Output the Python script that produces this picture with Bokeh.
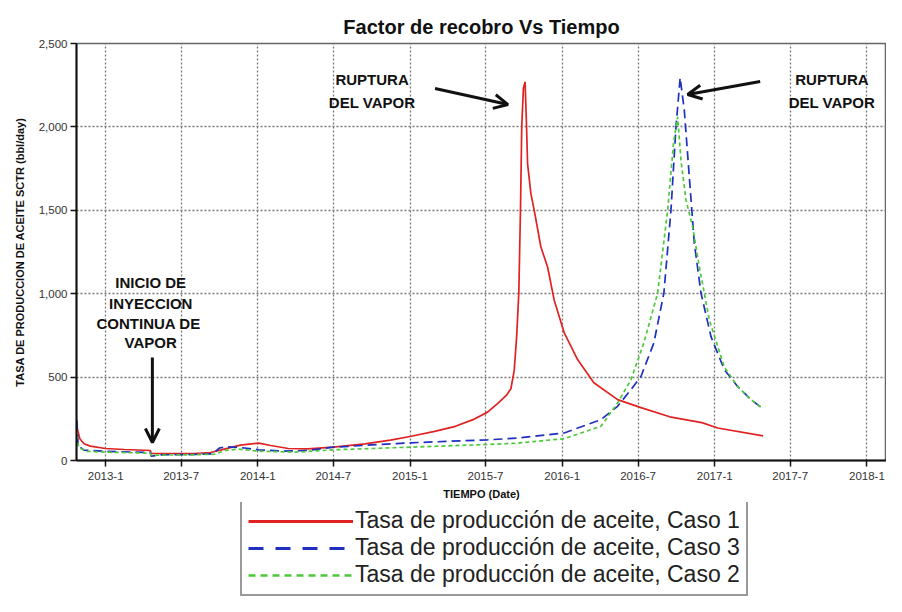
import pandas as pd
from bokeh.plotting import figure
from bokeh.layouts import column
from bokeh.models import (Range1d, FixedTicker, NumeralTickFormatter, Legend, LegendItem,
                          Arrow, OpenHead, Label)
from bokeh.embed import file_html
from bokeh.resources import INLINE

# ---------------- data ----------------
caso1_dates = ["2012-10-24", "2012-10-31", "2012-11-10", "2012-11-25", "2012-12-31", "2013-02-15",
               "2013-04-18", "2013-04-20", "2013-06-15", "2013-08-01", "2013-09-10", "2013-10-15",
               "2013-11-20", "2014-01-03", "2014-02-01", "2014-03-15", "2014-05-01", "2014-07-01",
               "2014-09-15", "2014-11-15", "2015-01-01", "2015-03-01", "2015-04-20", "2015-06-01",
               "2015-07-06", "2015-08-01", "2015-08-20", "2015-08-31", "2015-09-08", "2015-09-14",
               "2015-09-19", "2015-09-23", "2015-09-26", "2015-09-30", "2015-10-04", "2015-10-07",
               "2015-10-10", "2015-10-18", "2015-10-26", "2015-11-11", "2015-11-27", "2015-12-13",
               "2016-01-06", "2016-02-07", "2016-03-17", "2016-05-13", "2016-07-08", "2016-09-15",
               "2016-12-01", "2017-01-08", "2017-04-27"]
caso1_vals = [200, 130, 100, 86, 72, 66,
              60, 42, 42, 42, 48, 70,
              92, 104, 90, 72, 70, 80,
              100, 122, 144, 175, 205, 245,
              290, 345, 390, 430, 540, 750,
              1005, 1500, 2000, 2230, 2270, 2050,
              1780, 1600, 1500, 1280, 1160, 960,
              765, 605, 466, 365, 317, 262,
              227, 195, 148]

caso3_dates = ["2012-10-24", "2012-10-27", "2012-11-10", "2012-12-31", "2013-04-18", "2013-04-20",
               "2013-05-15", "2013-08-01", "2013-09-15", "2013-10-01", "2013-10-20", "2013-12-01",
               "2014-01-03", "2014-03-01", "2014-05-01", "2014-07-01", "2015-01-01", "2015-07-06",
               "2015-09-15", "2016-01-06", "2016-04-03", "2016-05-13", "2016-06-14", "2016-07-08",
               "2016-08-08", "2016-09-01", "2016-09-18", "2016-09-30", "2016-10-10", "2016-10-20",
               "2016-11-01", "2016-11-13", "2016-11-29", "2016-12-23", "2017-01-24", "2017-02-25",
               "2017-03-29", "2017-04-27"]
caso3_vals = [240, 90, 62, 55, 48, 26,
              34, 36, 40, 75, 82, 75,
              64, 56, 60, 80, 106, 124,
              134, 165, 245, 325, 425, 504,
              705, 1004, 1500, 2000, 2295, 2099,
              1700, 1303, 1004, 743, 544, 444,
              365, 310]

caso2_dates = ["2012-10-24", "2012-10-28", "2012-11-15", "2013-01-01", "2013-04-18", "2013-04-20",
               "2013-08-01", "2013-09-20", "2013-10-15", "2013-11-15", "2014-01-03", "2014-04-01",
               "2014-07-01", "2015-01-01", "2015-07-06", "2015-09-15", "2016-01-06", "2016-04-03",
               "2016-05-13", "2016-06-14", "2016-07-15", "2016-08-17", "2016-09-10", "2016-09-24",
               "2016-10-04", "2016-10-12", "2016-10-24", "2016-11-09", "2016-11-25", "2016-12-19",
               "2017-01-24", "2017-02-25", "2017-03-29", "2017-04-27"]
caso2_vals = [150, 80, 55, 50, 44, 32,
              34, 38, 60, 68, 56, 50,
              64, 80, 96, 104, 131, 205,
              345, 484, 705, 1004, 1500, 1900,
              2060, 1800, 1561, 1401, 1162, 843,
              560, 444, 365, 310]

tick_labels = ["2013-1", "2013-7", "2014-1", "2014-7", "2015-1", "2015-7",
               "2016-1", "2016-7", "2017-1", "2017-7", "2018-1"]
y_ticks = [0, 500, 1000, 1500, 2000, 2500]

legend_labels = ["Tasa de producción de aceite, Caso 1",
                 "Tasa de producción de aceite, Caso 3",
                 "Tasa de producción de aceite, Caso 2"]

# annotations (data coordinates)
ann_inicio_lines = ["INICIO DE", "INYECCION", "CONTINUA  DE", "VAPOR"]
ann_inicio_x = "2013-04-19"
ann_inicio_y = [1067, 941, 821, 707]
ruptura_lines = ["RUPTURA", "DEL VAPOR"]
ruptura1_x = "2014-10-02"
ruptura2_x = "2017-10-09"
ruptura_y = [2284, 2146]

FONT = "Liberation Sans"
RED, BLUE, GREEN = "#e02222", "#1f2fbf", "#4cc93a"


def ms(s):
    return pd.Timestamp(s).value / 1e6


p = figure(width=886, height=502, x_axis_type="datetime", output_backend="svg",
           toolbar_location=None,
           x_range=Range1d(start=ms("2012-10-23"), end=ms("2018-02-17")),
           y_range=Range1d(0, 2500),
           min_border_left=76, min_border_right=0, min_border_top=43, min_border_bottom=42,
           background_fill_color="white", border_fill_color="white")

p.title.text = "Factor de recobro Vs Tiempo"
p.title.text_font = FONT
p.title.text_font_size = "20px"
p.title.text_font_style = "bold"
p.title.text_color = "#111111"
p.title.align = "center"
p.title.vertical_align = "top"
p.title.standoff = 8

p.outline_line_color = "#666666"
p.outline_line_width = 1.5

# lines
p.line(pd.to_datetime(caso1_dates), caso1_vals, line_color=RED, line_width=1.7)
p.line(pd.to_datetime(caso3_dates), caso3_vals, line_color=BLUE, line_width=1.7, line_dash="9 5")
p.line(pd.to_datetime(caso2_dates), caso2_vals, line_color=GREEN, line_width=1.7, line_dash="4 3")

# axes
tick_ms = [ms(pd.Timestamp(year=int(t.split("-")[0]), month=int(t.split("-")[1]), day=1))
           for t in tick_labels]
p.xaxis.ticker = FixedTicker(ticks=tick_ms)
p.xaxis.major_label_overrides = {t: lab for t, lab in zip(tick_ms, tick_labels)}
p.yaxis.ticker = FixedTicker(ticks=y_ticks)
p.yaxis.formatter = NumeralTickFormatter(format="0,0")

for ax in (p.xaxis[0], p.yaxis[0]):
    ax.axis_line_color = "#111111"
    ax.axis_line_width = 2
    ax.major_tick_line_color = "#111111"
    ax.major_tick_line_width = 1.5
    ax.major_tick_in = 0
    ax.major_tick_out = 6
    ax.minor_tick_line_color = None
    ax.major_label_text_font = FONT
    ax.major_label_text_font_size = "11.5px"
    ax.major_label_text_color = "#333333"
    ax.axis_label_text_font = FONT
    ax.axis_label_text_font_size = "11px"
    ax.axis_label_text_font_style = "bold"
    ax.axis_label_text_color = "#111111"

p.xaxis.axis_label = "TIEMPO (Date)"
p.xaxis.axis_label_standoff = 5
p.xaxis.major_label_standoff = 5
p.yaxis.axis_label = "TASA DE PRODUCCION DE ACEITE SCTR (bbl/day)"
p.yaxis.axis_label_standoff = 10
p.yaxis.major_label_standoff = 3

for g in (p.xgrid[0], p.ygrid[0]):
    g.grid_line_color = "#777777"
    g.grid_line_dash = "2 2"
    g.grid_line_width = 1.3

# annotations
for txt, yy in zip(ann_inicio_lines, ann_inicio_y):
    p.add_layout(Label(x=ms(ann_inicio_x), y=yy, text=txt, text_align="center",
                       text_baseline="middle", text_font=FONT, text_font_size="15px",
                       text_font_style="bold", text_color="#111111"))
for xx in (ruptura1_x, ruptura2_x):
    for txt, yy in zip(ruptura_lines, ruptura_y):
        p.add_layout(Label(x=ms(xx), y=yy, text=txt, text_align="center",
                           text_baseline="middle", text_font=FONT, text_font_size="15px",
                           text_font_style="bold", text_color="#111111"))

arrow_kw = dict(line_color="#111111", line_width=3)
head = lambda: OpenHead(size=14, line_width=3, line_color="#111111")
p.add_layout(Arrow(end=head(), x_start=ms("2013-04-23"), y_start=617,
                   x_end=ms("2013-04-23"), y_end=108, **arrow_kw))
p.add_layout(Arrow(end=head(), x_start=ms("2015-03-02"), y_start=2230,
                   x_end=ms("2015-08-24"), y_end=2134, **arrow_kw))
p.add_layout(Arrow(end=head(), x_start=ms("2017-04-20"), y_start=2272,
                   x_end=ms("2016-10-28"), y_end=2194, **arrow_kw))

# ---------------- legend panel (separate figure below the chart) ----------------
# its ranges are chosen so that the series themselves fall outside its frame;
# only the legend of this figure is visible.
pl = figure(width=886, height=94, output_backend="svg", toolbar_location=None,
            x_range=Range1d(0, 1), y_range=Range1d(-1e6, -1e6 + 1), min_border=0,
            background_fill_color="white", border_fill_color="white")
pl.axis.visible = False
pl.grid.visible = False
pl.outline_line_color = None

l1 = pl.line(pd.to_datetime(caso1_dates), caso1_vals, line_color=RED, line_width=3)
l3 = pl.line(pd.to_datetime(caso3_dates), caso3_vals, line_color=BLUE, line_width=3,
             line_dash="15 12")
l2 = pl.line(pd.to_datetime(caso2_dates), caso2_vals, line_color=GREEN, line_width=2.5,
             line_dash="7 5")

legend = Legend(items=[LegendItem(label=legend_labels[0], renderers=[l1]),
                       LegendItem(label=legend_labels[1], renderers=[l3]),
                       LegendItem(label=legend_labels[2], renderers=[l2])],
                location=(164, 0))
legend.label_text_font = FONT
legend.label_text_font_size = "23px"
legend.label_text_color = "#222222"
legend.glyph_width = 105
legend.glyph_height = 24
legend.label_height = 24
legend.label_standoff = 2
legend.spacing = 0
legend.padding = 6
legend.margin = 0
legend.border_line_color = "#333333"
legend.border_line_width = 2
legend.background_fill_color = "white"
legend.background_fill_alpha = 1
pl.add_layout(legend)

open("out.html", "w").write(file_html(column(p, pl, spacing=0), INLINE))
